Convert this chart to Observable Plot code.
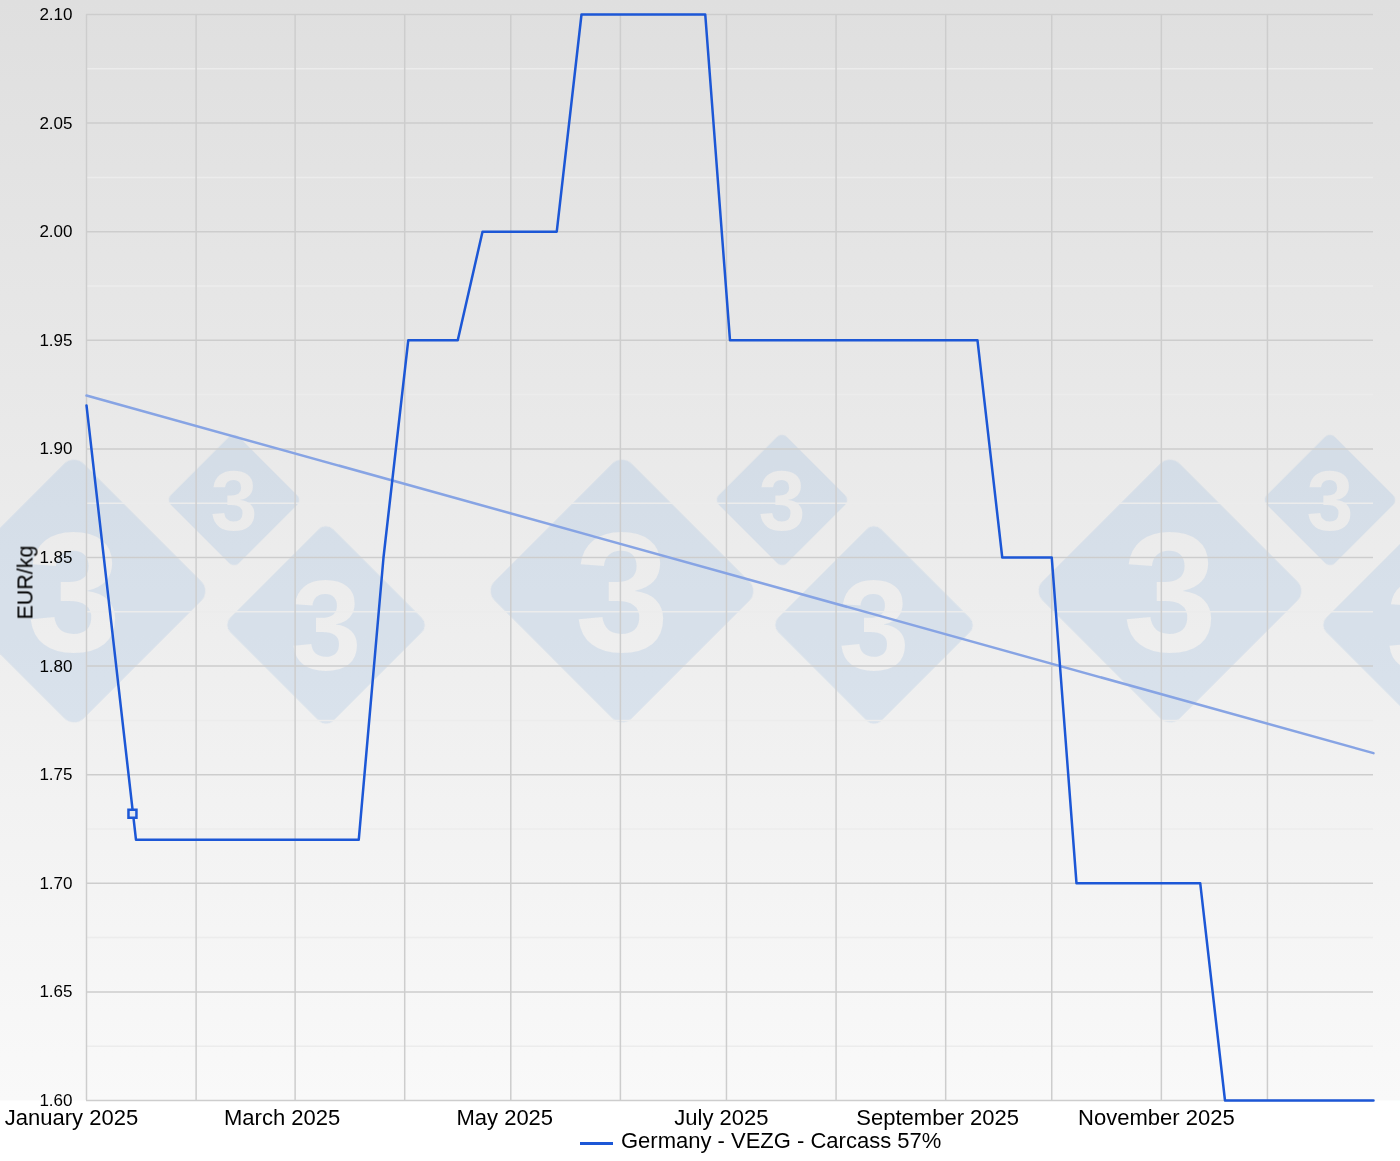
<!DOCTYPE html>
<html>
<head>
<meta charset="utf-8">
<script src="https://cdn.jsdelivr.net/npm/d3@7"></script>
<script src="https://cdn.jsdelivr.net/npm/@observablehq/plot@0.6"></script>
<style>
  html, body { margin: 0; padding: 0; }
  body {
    width: 1400px; height: 1161px; position: relative; overflow: hidden;
    background: linear-gradient(to bottom, #dfdfdf 0px, #f9f9f9 1100px, #ffffff 1101px, #ffffff 1161px) no-repeat;
    font-family: "Liberation Sans", Arial, sans-serif;
  }
  #chart svg { display: block; background: transparent; }
  #legend-line { position: absolute; left: 580px; top: 1142px; width: 33px; height: 2.5px; background: #1c57d6; }
  #legend-text { position: absolute; left: 621px; top: 1128px; font-size: 22px; line-height: 25px; color: #000; white-space: nowrap; }
</style>
</head>
<body>
<div id="chart"></div>
<div id="legend-line"></div>
<div id="legend-text"></div>
<script>
// ---- Data ----
const seriesName = "Germany - VEZG - Carcass 57%";
const yAxisTitle = "EUR/kg";

const weekDates = [
  "2025-01-01","2025-01-08","2025-01-15","2025-01-22","2025-01-29",
  "2025-02-05","2025-02-12","2025-02-19","2025-02-26",
  "2025-03-05","2025-03-12","2025-03-19","2025-03-26",
  "2025-04-02","2025-04-09","2025-04-16","2025-04-23","2025-04-30",
  "2025-05-07","2025-05-14","2025-05-21","2025-05-28",
  "2025-06-04","2025-06-11","2025-06-18","2025-06-25",
  "2025-07-02","2025-07-09","2025-07-16","2025-07-23","2025-07-30",
  "2025-08-06","2025-08-13","2025-08-20","2025-08-27",
  "2025-09-03","2025-09-10","2025-09-17","2025-09-24",
  "2025-10-01","2025-10-08","2025-10-15","2025-10-22","2025-10-29",
  "2025-11-05","2025-11-12","2025-11-19","2025-11-26",
  "2025-12-03","2025-12-10","2025-12-17","2025-12-24","2025-12-31"
];
const prices = [
  1.92, 1.82, 1.72, 1.72, 1.72,
  1.72, 1.72, 1.72, 1.72,
  1.72, 1.72, 1.72, 1.85,
  1.95, 1.95, 1.95, 2.00, 2.00,
  2.00, 2.00, 2.10, 2.10,
  2.10, 2.10, 2.10, 2.10,
  1.95, 1.95, 1.95, 1.95, 1.95,
  1.95, 1.95, 1.95, 1.95,
  1.95, 1.95, 1.85, 1.85,
  1.85, 1.70, 1.70, 1.70, 1.70,
  1.70, 1.70, 1.60, 1.60,
  1.60, 1.60, 1.60, 1.60, 1.60
];

const annotationDates = ["2025-01-14"];
const annotationValues = [1.732];

const yTicks = [1.60, 1.65, 1.70, 1.75, 1.80, 1.85, 1.90, 1.95, 2.00, 2.05, 2.10];
const yMinorTicks = [1.625, 1.675, 1.725, 1.775, 1.825, 1.875, 1.925, 1.975, 2.025, 2.075];
const monthStarts = [
  "2025-01-01","2025-02-01","2025-03-01","2025-04-01","2025-05-01","2025-06-01",
  "2025-07-01","2025-08-01","2025-09-01","2025-10-01","2025-11-01","2025-12-01"
];
const labelMonths = ["2025-01-01","2025-03-01","2025-05-01","2025-07-01","2025-09-01","2025-11-01"];
const xDomain = ["2025-01-01", "2025-12-31"];

// ---- Layout (label nudges, not data) ----
const labelNudges = [-15, -13, -6, -5, -8, -5];

// ---- Build tables ----
const parse = s => new Date(s + "T00:00:00Z");
const data = weekDates.map((d, i) => ({date: parse(d), price: prices[i]}));
const annotations = annotationDates.map((d, i) => ({date: parse(d), value: annotationValues[i]}));

const blue = "#1c57d6";
const trendBlue = "#87a4e4";
const fontFamily = '"Liberation Sans", Arial, sans-serif';

const xAxes = labelMonths.map((m, i) => Plot.axisX({
  ticks: [parse(m)], tickSize: 0, tickPadding: 9,
  tickFormat: d3.utcFormat("%B %Y"), fontSize: 22, dx: labelNudges[i], label: null
}));

const chart = Plot.plot({
  width: 1400,
  height: 1128,
  marginLeft: 86,
  marginRight: 27,
  marginTop: 14,
  marginBottom: 28,
  style: {background: "transparent", fontFamily, color: "#000", overflow: "visible"},
  x: {type: "utc", domain: xDomain.map(parse)},
  y: {domain: [1.6, 2.1]},
  marks: [
    Plot.ruleY(yMinorTicks, {stroke: "#ececec", strokeWidth: 1.5}),
    Plot.ruleY(yTicks, {stroke: "#cdcdcd", strokeWidth: 1.5}),
    Plot.ruleX(monthStarts.map(parse), {stroke: "#cdcdcd", strokeWidth: 1.5}),
    Plot.axisY({ticks: yTicks, tickSize: 0, tickPadding: 14, tickFormat: d3.format(".2f"), fontSize: 17, label: null}),
    ...xAxes,
    Plot.text([yAxisTitle], {text: d => d, frameAnchor: "left", textAnchor: "middle", lineAnchor: "middle", rotate: -90, dx: -61, dy: 25, fontSize: 21.5, fill: "#000"}),
    Plot.linearRegressionY(data, {x: "date", y: "price", stroke: trendBlue, strokeWidth: 2.5, ci: 0}),
    Plot.line(data, {x: "date", y: "price", stroke: blue, strokeWidth: 2.5}),
    Plot.dot(annotations, {x: "date", y: "value", symbol: "square", r: 4.5, fill: "#e4e9f2", stroke: blue, strokeWidth: 2.5})
  ]
});

document.getElementById("chart").appendChild(chart);

// ---- Decorative watermark (logo diamonds), drawn behind the marks ----
const ns = "http://www.w3.org/2000/svg";
const wm = [];
[74, 622, 1170].forEach(cx => {
  wm.push({cx, cy: 591, h: 137});          // large
  wm.push({cx: cx + 160, cy: 500, h: 68});  // small
  wm.push({cx: cx + 252, cy: 625, h: 103}); // medium
});
const g = document.createElementNS(ns, "g");
chart.insertBefore(g, chart.firstChild);
const gs = d3.select(g);
const defs = gs.append("defs");
const mask = defs.append("mask").attr("id", "wm-cut").attr("maskUnits", "userSpaceOnUse")
  .attr("x", -200).attr("y", 0).attr("width", 1800).attr("height", 1128);
mask.append("rect").attr("x", -200).attr("y", 0).attr("width", 1800).attr("height", 1128).attr("fill", "white");
wm.forEach(d => {
  const fs = 170 * d.h / 137;
  mask.append("text").attr("x", d.cx).attr("y", d.cy + 0.355 * fs)
    .attr("text-anchor", "middle").attr("font-family", fontFamily).attr("font-weight", "bold")
    .attr("font-size", fs).attr("fill", "black").text("3");
});
const dg = gs.append("g").attr("mask", "url(#wm-cut)").attr("fill", "#9dbde1").attr("fill-opacity", 0.27);
wm.forEach(d => {
  const side = d.h * Math.SQRT2;
  dg.append("rect")
    .attr("x", -side / 2).attr("y", -side / 2).attr("width", side).attr("height", side)
    .attr("rx", d.h * 0.1).attr("ry", d.h * 0.1)
    .attr("transform", `translate(${d.cx},${d.cy}) rotate(45)`);
});

document.getElementById("legend-line").style.background = blue;
document.getElementById("legend-text").textContent = seriesName;
</script>
</body>
</html>
